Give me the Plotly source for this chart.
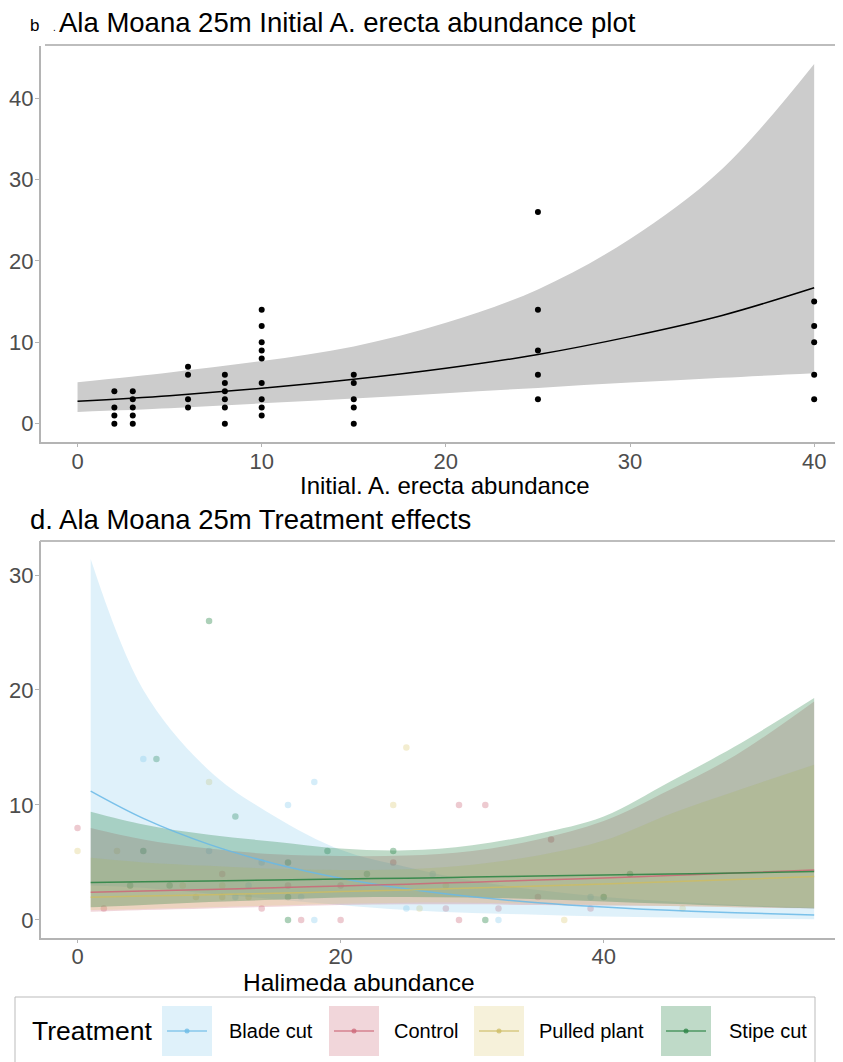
import plotly.graph_objects as go

W, H = 843, 1062
BODY = 8  # default page margin of the html body

# ---------------- Panel b data ----------------
init_groups = [2, 3, 6, 8, 10, 15, 25, 40]
init_counts = [
    [0, 1, 2, 4],
    [0, 1, 2, 3, 4],
    [2, 3, 6, 7],
    [0, 2, 3, 4, 5, 6],
    [1, 2, 3, 5, 8, 9, 10, 12, 14],
    [0, 2, 3, 5, 6],
    [3, 6, 9, 14, 26],
    [3, 6, 10, 12, 15],
]
fit_x = [0, 5, 10, 15, 20, 25, 30, 35, 40]
fit_y = [2.75, 3.45, 4.35, 5.45, 6.8, 8.5, 10.7, 13.3, 16.7]
fit_lo = [1.45, 1.9, 2.5, 3.1, 3.75, 4.4, 5.05, 5.65, 6.2]
fit_hi = [5.1, 6.3, 7.7, 9.5, 12.4, 16.5, 22.7, 31.3, 44.2]

# ---------------- Panel d data ----------------
treatments = ["Blade cut", "Control", "Pulled plant", "Stipe cut"]
pt_x = {
    "Blade cut": [5, 18, 16, 10, 14, 13, 12, 17, 25, 18, 27, 39, 32],
    "Control": [0, 11, 24, 16, 20, 2, 14, 17, 20, 29, 31, 36, 35, 28, 32, 39, 29],
    "Pulled plant": [25, 0, 10, 24, 3, 8, 11, 9, 11, 13, 26, 28, 46, 37],
    "Stipe cut": [10, 6, 12, 5, 19, 24, 16, 22, 4, 7, 16, 16, 42, 40, 31],
}
pt_y = {
    "Blade cut": [14, 12, 10, 6, 5, 3, 2, 2, 1, 0, 4, 2, 0],
    "Control": [8, 4, 5, 3, 3, 1, 1, 0, 0, 10, 10, 7, 2, 1, 1, 1, 0],
    "Pulled plant": [15, 6, 12, 10, 6, 3, 3, 2, 2, 2, 1, 3, 1, 0],
    "Stipe cut": [26, 14, 9, 6, 6, 6, 5, 4, 3, 3, 2, 0, 4, 2, 0],
}
hal_x = [1, 5, 10, 15, 20, 25, 30, 35, 40, 45, 50, 56]
pred_fit = {
    "Blade cut": [11.2, 8.83, 6.57, 4.89, 3.63, 2.70, 2.01, 1.49, 1.11, 0.83, 0.61, 0.43],
    "Control": [2.4, 2.51, 2.64, 2.79, 2.95, 3.11, 3.28, 3.46, 3.65, 3.86, 4.07, 4.35],
    "Pulled plant": [1.97, 2.07, 2.19, 2.32, 2.46, 2.61, 2.77, 2.94, 3.12, 3.31, 3.51, 3.77],
    "Stipe cut": [3.25, 3.31, 3.39, 3.47, 3.55, 3.63, 3.72, 3.81, 3.90, 3.99, 4.08, 4.20],
}
pred_lo = {
    "Blade cut": [3.0, 2.8, 2.3, 1.8, 1.3, 0.85, 0.6, 0.45, 0.3, 0.2, 0.12, 0.05],
    "Control": [0.7, 0.85, 1.0, 1.15, 1.3, 1.35, 1.35, 1.3, 1.25, 1.2, 1.1, 1.0],
    "Pulled plant": [0.85, 0.95, 1.1, 1.25, 1.4, 1.5, 1.5, 1.4, 1.3, 1.2, 1.1, 1.05],
    "Stipe cut": [1.1, 1.3, 1.55, 1.75, 1.95, 2.0, 1.95, 1.8, 1.6, 1.4, 1.2, 1.0],
}
pred_hi = {
    "Blade cut": [31.4, 20.0, 13.0, 9.0, 6.1, 4.6, 3.4, 2.6, 2.0, 1.6, 1.3, 1.05],
    "Control": [8.0, 7.0, 6.2, 5.7, 5.55, 5.6, 6.0, 7.0, 8.6, 11.3, 14.3, 19.0],
    "Pulled plant": [5.4, 5.0, 4.7, 4.45, 4.35, 4.4, 4.8, 5.6, 6.9, 9.2, 11.2, 13.5],
    "Stipe cut": [9.4, 8.3, 7.4, 6.8, 6.2, 6.05, 6.5, 7.5, 9.0, 12.0, 15.1, 19.3],
}

base_rgb = {
    "Blade cut": (136, 204, 238),
    "Control": (204, 102, 119),
    "Pulled plant": (221, 204, 119),
    "Stipe cut": (17, 119, 51),
}
line_rgb = {
    "Blade cut": (105, 185, 230),
    "Control": (204, 102, 119),
    "Pulled plant": (205, 188, 100),
    "Stipe cut": (40, 130, 65),
}


def rgba(c, a):
    return "rgba(%d,%d,%d,%.3f)" % (c[0], c[1], c[2], a)


# page pixel -> paper fraction (figure sits 8px from the page's top-left)
def fx(px):
    return (px - BODY) / W


def fy(py):
    return 1 - (py - BODY) / H


FONT = "Liberation Sans, Arial, sans-serif"
TICKC = "#4D4D4D"
AXC = "#B4B4B4"

fig = go.Figure()

# ---- panel b ----
fig.add_trace(go.Scatter(x=fit_x, y=fit_lo, mode="lines", line=dict(width=0, shape="spline"),
                         xaxis="x", yaxis="y", hoverinfo="skip", showlegend=False))
fig.add_trace(go.Scatter(x=fit_x, y=fit_hi, mode="lines", line=dict(width=0, shape="spline"),
                         fill="tonexty", fillcolor="#CCCCCC",
                         xaxis="x", yaxis="y", hoverinfo="skip", showlegend=False))
fig.add_trace(go.Scatter(x=fit_x, y=fit_y, mode="lines", line=dict(color="black", width=1.5, shape="spline"),
                         xaxis="x", yaxis="y", showlegend=False))
px_all, py_all = [], []
for g, vals in zip(init_groups, init_counts):
    px_all += [g] * len(vals)
    py_all += vals
fig.add_trace(go.Scatter(x=px_all, y=py_all, mode="markers", marker=dict(color="black", size=6),
                         xaxis="x", yaxis="y", showlegend=False))

# ---- panel d ----
for t in treatments:
    fig.add_trace(go.Scatter(x=pt_x[t], y=pt_y[t], mode="markers",
                             marker=dict(color=rgba(base_rgb[t], 0.35), size=6.5),
                             xaxis="x2", yaxis="y2", name=t, showlegend=False))
for t in treatments:
    fig.add_trace(go.Scatter(x=hal_x, y=pred_lo[t], mode="lines", line=dict(width=0, shape="spline"),
                             xaxis="x2", yaxis="y2", hoverinfo="skip", showlegend=False))
    fig.add_trace(go.Scatter(x=hal_x, y=pred_hi[t], mode="lines", line=dict(width=0, shape="spline"),
                             fill="tonexty", fillcolor=rgba(base_rgb[t], 0.27),
                             xaxis="x2", yaxis="y2", hoverinfo="skip", showlegend=False))
for t in treatments:
    fig.add_trace(go.Scatter(x=hal_x, y=pred_fit[t], mode="lines",
                             line=dict(color=rgba(line_rgb[t], 0.85), width=1.5, shape="spline"),
                             xaxis="x2", yaxis="y2", name=t, showlegend=False))

axis_common = dict(showline=True, linecolor=AXC, linewidth=1.5, ticks="outside", ticklen=4,
                   tickcolor=AXC, tickwidth=1.2, showgrid=False, zeroline=False,
                   tickfont=dict(family=FONT, size=22, color=TICKC))

fig.update_layout(
    width=W, height=H, margin=dict(l=0, r=0, t=0, b=0),
    paper_bgcolor="white", plot_bgcolor="white", showlegend=False,
    xaxis=dict(domain=[fx(40.7), 1], range=[-2.0, 42.0], anchor="y",
               tickvals=[0, 10, 20, 30, 40], ticklabelstandoff=-5, **axis_common),
    yaxis=dict(domain=[fy(441.7), fy(46)], range=[-2.21, 46.4], anchor="x",
               tickvals=[0, 10, 20, 30, 40], ticklabelstandoff=-3, **axis_common),
    xaxis2=dict(domain=[fx(40.7), 1], range=[-2.8, 58.8], anchor="y2",
                tickvals=[0, 20, 40], ticklabelstandoff=-6, **axis_common),
    yaxis2=dict(domain=[fy(937.7), fy(541)], range=[-1.55, 32.96], anchor="x2",
                tickvals=[0, 10, 20, 30], ticklabelstandoff=-3, **axis_common),
)

shapes = []
annotations = []
# top border lines of each panel
shapes.append(dict(type="line", xref="paper", yref="paper", x0=fx(45), x1=1, y0=fy(45), y1=fy(45),
                   line=dict(color="#BDBDBD", width=2)))
shapes.append(dict(type="line", xref="paper", yref="paper", x0=fx(40), x1=1, y0=fy(541), y1=fy(541),
                   line=dict(color="#BDBDBD", width=2)))

# titles
annotations.append(dict(text="b", x=fx(34), y=fy(25), xref="paper", yref="paper", showarrow=False,
                        xanchor="center", yanchor="middle", font=dict(family=FONT, size=17, color="black")))
annotations.append(dict(text=".", x=fx(54), y=fy(28), xref="paper", yref="paper", showarrow=False,
                        xanchor="center", yanchor="middle", font=dict(family=FONT, size=10, color="black")))
annotations.append(dict(text="Ala Moana 25m Initial A. erecta abundance plot", x=fx(57), y=fy(22),
                        xref="paper", yref="paper", showarrow=False, xanchor="left", yanchor="middle",
                        font=dict(family=FONT, size=27.5, color="black")))
annotations.append(dict(text="Initial. A. erecta abundance", x=fx(445), y=fy(485),
                        xref="paper", yref="paper", showarrow=False, xanchor="center", yanchor="middle",
                        font=dict(family=FONT, size=24, color="black")))
annotations.append(dict(text="d. Ala Moana 25m Treatment effects", x=fx(28), y=fy(520),
                        xref="paper", yref="paper", showarrow=False, xanchor="left", yanchor="middle",
                        font=dict(family=FONT, size=27.5, color="black")))
annotations.append(dict(text="Halimeda abundance", x=fx(359), y=fy(982),
                        xref="paper", yref="paper", showarrow=False, xanchor="center", yanchor="middle",
                        font=dict(family=FONT, size=24.5, color="black")))

# legend (drawn manually)
shapes.append(dict(type="rect", xref="paper", yref="paper", x0=fx(15), x1=fx(815), y0=fy(1085), y1=fy(997),
                   line=dict(color="#BBBBBB", width=1), fillcolor="rgba(0,0,0,0)"))
annotations.append(dict(text="Treatment", x=fx(30), y=fy(1031), xref="paper", yref="paper", showarrow=False,
                        xanchor="left", yanchor="middle", font=dict(family=FONT, size=26.5, color="black")))
key_x = [162, 329, 474, 661]
lab_x = [227, 392, 537, 727]
ky0, ky1 = 1006, 1056
for t, kx, lx in zip(treatments, key_x, lab_x):
    shapes.append(dict(type="rect", xref="paper", yref="paper", x0=fx(kx), x1=fx(kx + 50),
                       y0=fy(ky1), y1=fy(ky0), line=dict(width=0), fillcolor=rgba(base_rgb[t], 0.27)))
    shapes.append(dict(type="line", xref="paper", yref="paper", x0=fx(kx + 5), x1=fx(kx + 45),
                       y0=fy((ky0 + ky1) / 2), y1=fy((ky0 + ky1) / 2),
                       line=dict(color=rgba(line_rgb[t], 0.75), width=1.5)))
    cx, cy = kx + 25, (ky0 + ky1) / 2
    shapes.append(dict(type="circle", xref="paper", yref="paper", x0=fx(cx - 2.5), x1=fx(cx + 2.5),
                       y0=fy(cy + 2.5), y1=fy(cy - 2.5), line=dict(width=0),
                       fillcolor=rgba(line_rgb[t], 0.75)))
    annotations.append(dict(text=t, x=fx(lx), y=fy(1031), xref="paper", yref="paper", showarrow=False,
                            xanchor="left", yanchor="middle", font=dict(family=FONT, size=20, color="black")))

fig.update_layout(shapes=shapes, annotations=annotations)
fig.write_html("out.html")
